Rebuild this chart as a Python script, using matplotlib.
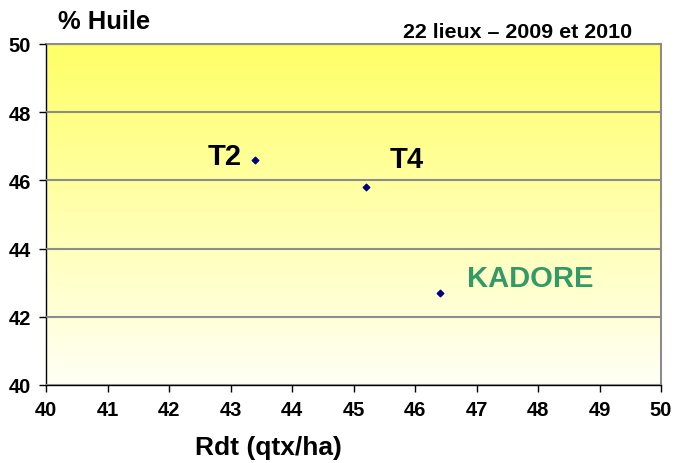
import matplotlib
matplotlib.use("Agg")
import matplotlib.pyplot as plt
import numpy as np
from matplotlib.colors import LinearSegmentedColormap
from matplotlib import font_manager as fm

names = ["T2", "T4", "KADORE"]
rdt = [43.4, 45.2, 46.4]
huile = [46.6, 45.8, 42.7]
label_colors = ["black", "black", "#339966"]
x_ticks = list(range(40, 51))
y_ticks = [40, 42, 44, 46, 48, 50]


def bold_font():
    prefs = ["Liberation Sans", "Arimo", "Noto Sans", "Roboto", "Lato",
             "Open Sans", "Inter", "DejaVu Sans"]
    for fam in prefs:
        for f in fm.fontManager.ttflist:
            w = f.weight
            try:
                w = int(w)
            except (TypeError, ValueError):
                w = 700 if str(w).lower() == 'bold' else 400
            if f.name == fam and w >= 700 and f.style == 'normal' \
                    and 'Narrow' not in f.name:
                return fm.FontProperties(fname=f.fname)
    return fm.FontProperties(family='DejaVu Sans', weight='bold')


BOLD = bold_font()


def fp(size):
    p = BOLD.copy()
    p.set_size(size)
    return p


fig = plt.figure(figsize=(6.75, 4.64), dpi=100)
ax = fig.add_axes([46/675, 1-386/464, (661-46)/675, (386-45)/464])

cmap = LinearSegmentedColormap.from_list("g", ["#FFFFF6", "#FFFF66"])
grad = np.linspace(0, 1, 256).reshape(-1, 1)
ax.imshow(grad, extent=[40, 50, 40, 50], origin='lower', cmap=cmap,
          aspect='auto', zorder=0)

ax.set_xlim(40, 50)
ax.set_ylim(40, 50)
ax.set_xticks(x_ticks)
ax.set_yticks(y_ticks)
ax.set_xticklabels([str(v) for v in x_ticks], fontproperties=fp(14.5))
ax.set_yticklabels([str(v) for v in y_ticks], fontproperties=fp(14.5))
ax.tick_params(axis='both', length=5, width=1, color='black')
ax.tick_params(axis='x', direction='out', pad=6)
ax.tick_params(axis='y', direction='out', pad=6)

ax.grid(axis='y', color='#8c8c8c', linewidth=1.5, zorder=1)
ax.set_axisbelow(False)
for side in ['top', 'right']:
    ax.spines[side].set_color('#8c8c8c')
    ax.spines[side].set_linewidth(1.5)
for side in ['left', 'bottom']:
    ax.spines[side].set_color('black')
    ax.spines[side].set_linewidth(1.0)

ax.scatter(rdt, huile, marker='D', s=11, color='#000080', zorder=3)

# labels next to points
ax.annotate(names[0], (rdt[0], huile[0]), xytext=(-9.5, 2.5), textcoords='offset points',
            ha='right', va='center', color=label_colors[0], fontproperties=fp(21))
ax.annotate(names[1], (rdt[1], huile[1]), xytext=(17, 20), textcoords='offset points',
            ha='left', va='center', color=label_colors[1], fontproperties=fp(21))
ax.annotate(names[2], (rdt[2], huile[2]), xytext=(20, 11), textcoords='offset points',
            ha='left', va='center', color=label_colors[2], fontproperties=fp(21))

fig.text(268/675, 1-448/464, "Rdt (qtx/ha)", fontproperties=fp(19),
         ha='center', va='center')
fig.text(58/675, 1-22/464, "% Huile", fontproperties=fp(18.4), va='center')
fig.text(632/675, 1-33/464, "22 lieux \u2013 2009 et 2010", fontproperties=fp(15.4),
         ha='right', va='center')

fig.savefig("out.png", dpi=100)
